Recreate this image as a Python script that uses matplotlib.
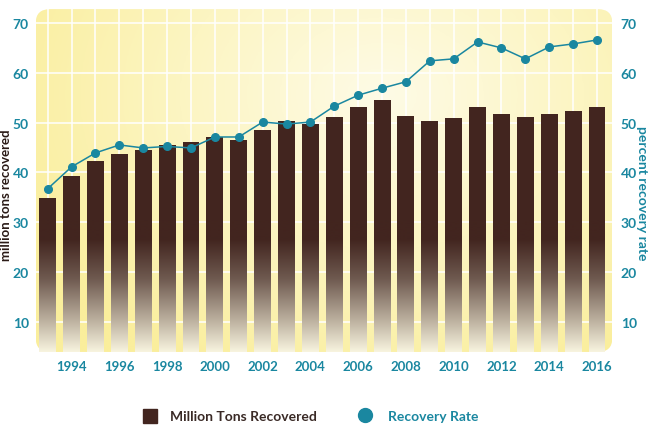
import numpy as np
import matplotlib
matplotlib.use("Agg")
import matplotlib.pyplot as plt
from matplotlib.path import Path
from matplotlib.patches import FancyBboxPatch, PathPatch
from matplotlib.colors import LinearSegmentedColormap

# data
years = list(range(1993, 2017))
tons = [34.9, 39.3, 42.3, 43.7, 44.5, 45.5, 46.1, 47.1, 46.5, 48.5, 50.3, 49.7,
        51.1, 53.1, 54.5, 51.3, 50.3, 50.9, 53.1, 51.7, 51.1, 51.7, 52.3, 53.1]
rate = [36.7, 41.1, 43.9, 45.5, 44.9, 45.2, 44.9, 47.1, 47.1, 50.1, 49.7, 50.1,
        53.3, 55.5, 56.9, 58.2, 62.4, 62.8, 66.2, 65.0, 62.8, 65.2, 65.8, 66.6]
xticks = list(range(1994, 2017, 2))
yticks = [10, 20, 30, 40, 50, 60, 70]

BROWN = "#42251f"
TEAL = "#1a87a0"
FONT = ["Lato", "DejaVu Sans"]

plt.rcParams["font.family"] = FONT

fig = plt.figure(figsize=(6.5, 4.39), dpi=100)
ax = fig.add_axes([0.055, 0.196, 0.887, 0.781])
xlim = (1992.5, 2016.64)
ylim = (3.9, 72.8)
ax.set_xlim(*xlim)
ax.set_ylim(*ylim)
for s in ax.spines.values():
    s.set_visible(False)
ax.patch.set_visible(False)

# rounded yellow background with a soft radial gradient
bg = FancyBboxPatch((0, 0), 1, 1, boxstyle="round,pad=0,rounding_size=0.025",
                    transform=ax.transAxes, facecolor="none", edgecolor="none",
                    mutation_aspect=1.6)
ax.add_patch(bg)
gx, gy = np.meshgrid(np.linspace(0, 1, 300), np.linspace(0, 1, 200))
d = np.sqrt(((gx - 0.6) / 0.7) ** 2 + ((gy - 0.75) / 0.9) ** 2)
d = np.clip(d, 0, 1)
bg_cmap = LinearSegmentedColormap.from_list("bg", ["#fefbe6", "#fcf5c2", "#faee9c"])
im_bg = ax.imshow(d, cmap=bg_cmap, extent=[0, 1, 0, 1], origin="lower",
                  transform=ax.transAxes, aspect="auto", zorder=0,
                  interpolation="bilinear")
im_bg.set_clip_path(bg)

# grid
for v in yticks:
    ax.axhline(v, color="white", lw=1.1, zorder=1)
for yr in years:
    ax.axvline(yr, color="white", lw=1.1, zorder=1)

# bars: dark at top, fading to cream near the bottom
bars = ax.bar(years, tons, width=0.71, color="none", zorder=2)
paths = [b.get_path().transformed(b.get_patch_transform()) for b in bars]
clip = PathPatch(Path.make_compound_path(*paths), transform=ax.transData,
                 facecolor="none", edgecolor="none")
ax.add_patch(clip)
bar_cmap = LinearSegmentedColormap.from_list(
    "bars", [(0.0, "#f8f4df"), (0.25, "#b9ad9c"), (0.55, "#6f5a50"),
             (0.85, BROWN), (1.0, BROWN)])
grad = np.linspace(0, 1, 256).reshape(-1, 1)
im_bar = ax.imshow(grad, cmap=bar_cmap, extent=[xlim[0], xlim[1], 3.9, 30.5],
                   origin="lower", aspect="auto", zorder=2)
im_bar.set_clip_path(clip)
ax.bar(years, [max(t - 30.4, 0) for t in tons], bottom=30.4,
       width=0.71, color=BROWN, zorder=2)
ax.set_xlim(*xlim)
ax.set_ylim(*ylim)

# recovery rate line on a twin axis with the same scale
ax2 = ax.twinx()
ax2.set_ylim(*ylim)
for s in ax2.spines.values():
    s.set_visible(False)
ax2.plot(years, rate, color=TEAL, lw=1.1, marker="o", ms=5.5, zorder=3)

# ticks
ax.set_xticks(xticks)
ax.set_xticklabels([str(x) for x in xticks])
ax.set_yticks(yticks)
ax2.set_yticks(yticks)
ax.tick_params(axis="x", length=0, pad=6, labelcolor=TEAL, labelsize=9.5)
ax.tick_params(axis="y", length=0, pad=5, labelcolor=TEAL, labelsize=10)
ax2.tick_params(axis="y", length=0, pad=6, labelcolor=TEAL, labelsize=10)
for lbl in ax.get_xticklabels() + ax.get_yticklabels() + ax2.get_yticklabels():
    lbl.set_fontweight("bold")

fig.text(0.009, 0.555, "million tons recovered", rotation=90, color="#2a1a16",
         fontsize=9.5, fontweight="bold", ha="center", va="center")
fig.text(0.988, 0.56, "percent recovery rate", rotation=270, color=TEAL,
         fontsize=10, fontweight="bold", ha="center", va="center")

# legend
fig.patches.append(plt.Rectangle((143 / 650, 1 - 424 / 439), 14 / 650, 14 / 439,
                                 transform=fig.transFigure, color=BROWN))
fig.text(170 / 650, 1 - 417 / 439, "Million Tons Recovered", color="#3a2a26",
         fontsize=10, fontweight="bold", ha="left", va="center")
fig.lines.append(plt.Line2D([365 / 650], [1 - 416 / 439], marker="o", ms=10,
                            color=TEAL, transform=fig.transFigure))
fig.text(388 / 650, 1 - 417 / 439, "Recovery Rate", color=TEAL,
         fontsize=10, fontweight="bold", ha="left", va="center")

fig.savefig("out.png", dpi=100, facecolor="white")
